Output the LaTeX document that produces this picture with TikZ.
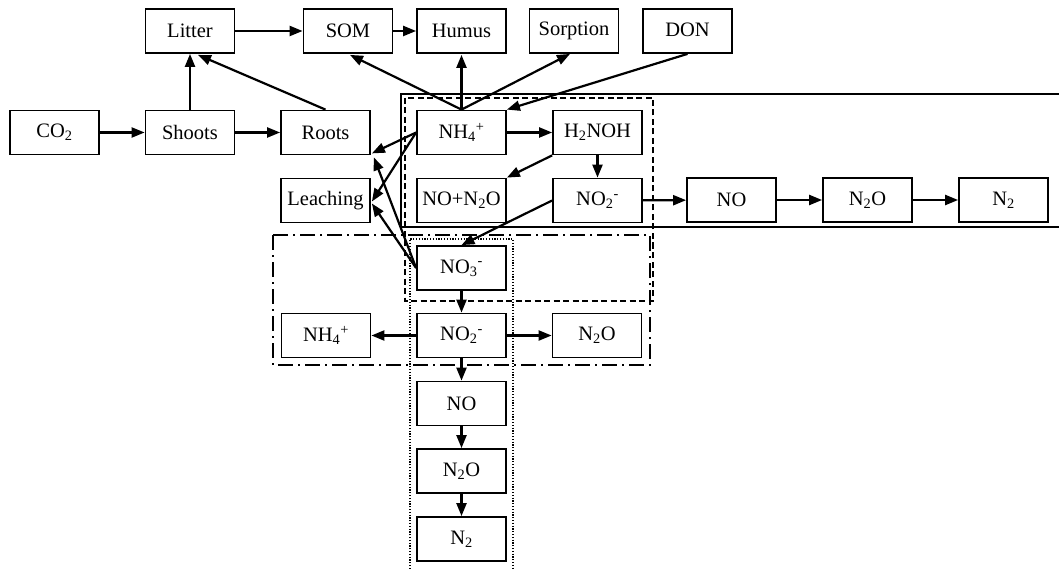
\documentclass[tikz,border=0pt]{standalone}
\usepackage{fontspec}
\setmainfont{Liberation Serif}
\usetikzlibrary{arrows.meta,calc}
\begin{document}
\begin{tikzpicture}[x=1pt,y=-1pt,
  box/.style={draw,line width=1.8pt,fill=white,minimum width=89pt,minimum height=44pt,inner sep=0pt,
    font=\fontsize{20.5}{24}\selectfont},
  arr/.style={line width=2.2pt,-{Triangle[length=13pt,width=10pt]}},
  frame/.style={line width=1.7pt},
  dashframe/.style={line width=1.6pt,dash pattern=on 6pt off 3.5pt},
  dotframe/.style={line width=1.5pt,dash pattern=on 1.2pt off 1.6pt},
  ddframe/.style={line width=1.6pt,dash pattern=on 15pt off 5pt on 2pt off 5pt}]
\useasboundingbox (0,0) rectangle (1059,569);
% frames
\draw[frame] (1059,94) -- (401,94) -- (401,227) -- (1059,227);
\draw[dashframe] (405,98) rectangle (653,301);
\draw[ddframe] (273,235) rectangle (650,365);
\draw[dotframe] (410,569) -- (410,239) -- (513,239) -- (513,569);
% nodes
\node[box] (litter) at (190,31) {Litter};
\node[box] (som) at (348,31) {SOM};
\node[box] (humus) at (461.5,31) {Humus};
\node[box] (sorp) at (574,31) {Sorption};
\node[box] (don) at (687.5,31) {\raisebox{2pt}{DON}};
\node[box] (co2) at (54.5,132.5) {CO\textsubscript{2}};
\node[box] (shoots) at (190,132.5) {Shoots};
\node[box] (roots) at (325.5,132.5) {Roots};
\node[box] (leach) at (325.5,200.5) {Leaching};
\node[box] (nh4) at (461.5,132.5) {NH\textsubscript{4}\textsuperscript{+}};
\node[box] (h2noh) at (597.5,132.5) {H\textsubscript{2}NOH};
\node[box] (nono) at (461.5,200.5) {NO+N\textsubscript{2}O};
\node[box] (no2t) at (597.5,200.5) {NO\textsubscript{2}\textsuperscript{-}};
\node[box] (nor) at (731.5,200) {NO};
\node[box] (n2or) at (867.5,200) {N\textsubscript{2}O};
\node[box] (n2r) at (1003.5,200) {N\textsubscript{2}};
\node[box] (no3) at (461.5,268) {NO\textsubscript{3}\textsuperscript{-}};
\node[box] (no2m) at (461.5,335.5) {NO\textsubscript{2}\textsuperscript{-}};
\node[box] (nh4l) at (326,335.5) {NH\textsubscript{4}\textsuperscript{+}};
\node[box] (n2om) at (597,335.5) {N\textsubscript{2}O};
\node[box] (nol) at (461.5,403.5) {NO};
\node[box] (n2ol) at (461.5,471) {N\textsubscript{2}O};
\node[box] (n2l) at (461.5,539) {N\textsubscript{2}};
% arrows
\draw[arr] (litter) -- (som);
\draw[arr] (som) -- (humus);
\draw[arr] (co2) -- (shoots);
\draw[arr] (shoots) -- (roots);
\draw[arr] (shoots) -- (litter);
\draw[arr] ($(roots.north)$) -- ($(litter.south)+(8,1)$);
\draw[arr] (nh4.north) -- ($(som.south)+(2,1)$);
\draw[arr] (nh4.north) -- ($(humus.south)+(0,1)$);
\draw[arr] (nh4.north) -- ($(sorp.south)+(-4,0)$);
\draw[arr] (don.south) -- (nh4.north east);
\draw[arr] (nh4) -- (h2noh);
\draw[arr] (h2noh) -- (no2t);
\draw[arr] (h2noh.south west) -- (nono.north east);
\draw[arr] (no2t.west) -- (no3.north);
\draw[arr] (no2t) -- (nor);
\draw[arr] (nor) -- (n2or);
\draw[arr] (n2or) -- (n2r);
\draw[arr] (nh4.west) -- ($(roots.south east)+(1,-2)$);
\draw[arr] (nh4.west) -- ($(leach.east)+(1,1)$);
\draw[arr] (no3.west) -- ($(roots.south east)+(3,2)$);
\draw[arr] (no3.west) -- ($(leach.east)+(1,3)$);
\draw[arr] (no3) -- (no2m);
\draw[arr] (no2m) -- (nh4l);
\draw[arr] (no2m) -- (n2om);
\draw[arr] (no2m) -- (nol);
\draw[arr] (nol) -- (n2ol);
\draw[arr] (n2ol) -- (n2l);
\end{tikzpicture}
\end{document}
